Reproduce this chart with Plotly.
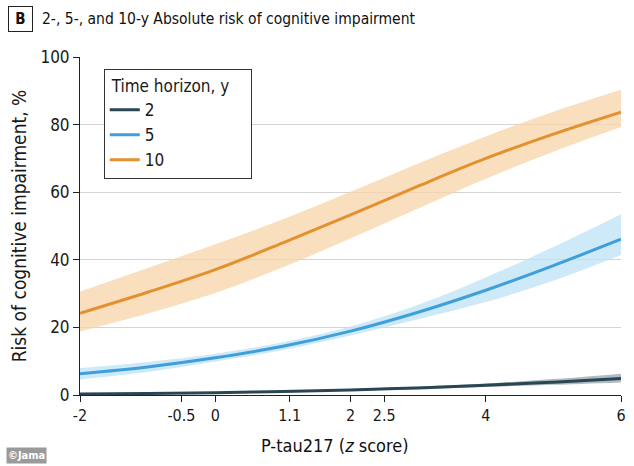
import plotly.graph_objects as go

x = [-2, -1, 0, 1, 2, 3, 4, 5, 6]

y2 = [0.3, 0.45, 0.7, 1.0, 1.5, 2.1, 2.9, 3.8, 4.9]
y2_lo = [0.2, 0.35, 0.55, 0.85, 1.3, 1.8, 2.4, 3.0, 3.7]
y2_hi = [0.4, 0.55, 0.85, 1.2, 1.75, 2.5, 3.4, 4.7, 6.3]

y5 = [6.3, 8.3, 11.0, 14.4, 18.9, 24.5, 31.0, 38.3, 46.1]
y5_lo = [4.6, 6.8, 9.9, 13.3, 17.6, 22.4, 27.5, 33.8, 41.4]
y5_hi = [8.0, 9.8, 12.2, 15.6, 20.3, 26.7, 34.8, 43.8, 53.5]

y10 = [24.2, 30.4, 37.1, 45.0, 53.3, 61.8, 70.0, 77.2, 83.7]
y10_lo = [18.8, 24.1, 30.2, 37.8, 46.3, 55.2, 64.0, 72.0, 79.3]
y10_hi = [30.6, 37.6, 44.6, 52.0, 60.1, 68.5, 76.5, 83.8, 90.3]

x_ticks = [-2, -0.5, 0, 1.1, 2, 2.5, 4, 6]
x_ticklabels = ["-2", "-0.5", "0", "1.1", "2", "2.5", "4", "6"]
y_ticks = [0, 20, 40, 60, 80, 100]

series = [
    ("2", y2, y2_lo, y2_hi, "#2a4654", "rgba(150,165,172,0.75)"),
    ("5", y5, y5_lo, y5_hi, "#3e9fdb", "rgba(190,226,246,0.75)"),
    ("10", y10, y10_lo, y10_hi, "#e3912f", "rgba(248,212,170,0.75)"),
]

FONT = "DejaVu Sans Condensed, Liberation Sans Narrow, Lato, sans-serif"

fig = go.Figure()
for name, ym, lo, hi, col, band in series:
    fig.add_trace(go.Scatter(x=x, y=lo, mode="lines", line=dict(width=0, shape="spline"),
                             showlegend=False, hoverinfo="skip"))
    fig.add_trace(go.Scatter(x=x, y=hi, mode="lines", line=dict(width=0, shape="spline"),
                             fill="tonexty", fillcolor=band, showlegend=False, hoverinfo="skip"))
for name, ym, lo, hi, col, band in series:
    fig.add_trace(go.Scatter(x=x, y=ym, mode="lines", name=name,
                             line=dict(color=col, width=3, shape="spline")))

W, H = 634, 466
L, R, T, B = 80, 8, 57, 71
pw, ph = W - L - R, H - T - B
def px(xp):
    return (xp - L) / pw
def py(yp):
    return (H - B - yp) / ph

fig.update_layout(
    width=W, height=H,
    margin=dict(l=L, r=R, t=T, b=B),
    paper_bgcolor="white", plot_bgcolor="white",
    font=dict(family=FONT, size=16, color="#1a1a1a"),
    showlegend=True,
    legend=dict(
        title=dict(text="\u00a0Time horizon, y\u00a0\u00a0\u00a0\u00a0", font=dict(size=17)),
        x=px(104), y=py(69), xanchor="left", yanchor="top",
        bordercolor="#333333", borderwidth=1, bgcolor="white",
        font=dict(size=17), tracegroupgap=2, traceorder="normal",
    ),
    xaxis=dict(
        range=[-2, 6], tickvals=x_ticks, ticktext=x_ticklabels,
        showgrid=False, zeroline=False,
        showline=True, linecolor="#222222", linewidth=1,
        ticks="outside", ticklen=6, tickcolor="#222222",
        tickfont=dict(size=16),
    ),
    yaxis=dict(
        range=[0, 100], tickvals=y_ticks,
        showgrid=True, gridcolor="#d4d4d4", gridwidth=1, zeroline=False,
        showline=True, linecolor="#222222", linewidth=1,
        ticks="outside", ticklen=6, tickcolor="#222222",
        tickfont=dict(size=17),
        title=dict(text="Risk of cognitive impairment, %", font=dict(size=19), standoff=8),
    ),
    annotations=[
        dict(text="<b>B</b>", x=px(20), y=py(19), xref="paper", yref="paper", showarrow=False,
             xanchor="center", yanchor="middle",
             font=dict(size=15, color="#111111"), bordercolor="#222222", borderwidth=1,
             borderpad=3, width=17, height=18),
        dict(text="2-, 5-, and 10-y Absolute risk of cognitive impairment", showarrow=False,
             xref="paper", yref="paper", x=px(40), y=py(19), xanchor="left", yanchor="middle",
             font=dict(size=15.5, color="#111111")),
        dict(text="P-tau217 (<i>z</i> score)", showarrow=False, xref="paper", yref="paper",
             x=px(337), y=py(445), xanchor="center", yanchor="middle",
             font=dict(size=18, color="#111111")),
        dict(text="<b>©Jama</b>", showarrow=False, xref="paper", yref="paper",
             x=px(5), y=py(464), xanchor="left", yanchor="bottom",
             bgcolor="#9a9a9a", font=dict(size=11, color="white")),
    ],
)

fig.write_html("out.html")
